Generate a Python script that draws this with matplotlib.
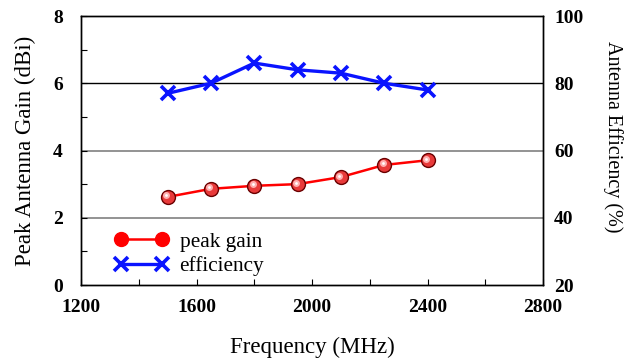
import matplotlib
matplotlib.use("Agg")
import matplotlib.pyplot as plt
import matplotlib.transforms as mtransforms
from matplotlib.lines import Line2D
from matplotlib.ticker import MultipleLocator

# data
freq = [1500, 1650, 1800, 1950, 2100, 2250, 2400]
peak_gain = [2.62, 2.86, 2.95, 3.0, 3.21, 3.57, 3.71]
efficiency = [77, 80, 86, 84, 83, 80, 78]

plt.rcParams['font.family'] = ['Liberation Serif', 'DejaVu Serif']
plt.rcParams['font.size'] = 14

fig = plt.figure(figsize=(6.36, 3.58), dpi=100)
ax = fig.add_axes([0.1274, 0.2039, 0.7264, 0.7514])
ax2 = ax.twinx()

# horizontal grid lines
ax.axhline(2, color='#808080', lw=1.2, zorder=0)
ax.axhline(4, color='#808080', lw=1.2, zorder=0)
ax.axhline(6, color='black', lw=1.0, zorder=0)

# peak gain: red line with sphere-like markers
ax.plot(freq, peak_gain, color='red', lw=1.8, marker='o', ms=10,
        mfc='#e83a3a', mec='#6a0000', mew=1.0, zorder=3)
hl = mtransforms.offset_copy(ax.transData, fig=fig, x=-1.5, y=1.5, units='dots')
ax.plot(freq, peak_gain, ls='none', marker='o', ms=5, mfc='#ffb0b0',
        mec='none', transform=hl, zorder=4)
ax.plot(freq, peak_gain, ls='none', marker='o', ms=2, mfc='white',
        mec='none', transform=hl, zorder=5)

# efficiency: blue line with x markers
ax2.plot(freq, efficiency, color='#0a14ff', lw=2.4, marker='x', ms=10,
         mew=2.6, zorder=3)

ax.set_xlim(1200, 2800)
ax.set_ylim(0, 8)
ax2.set_ylim(20, 100)

ax.xaxis.set_major_locator(MultipleLocator(400))
ax.xaxis.set_minor_locator(MultipleLocator(200))
ax.yaxis.set_major_locator(MultipleLocator(2))
ax.yaxis.set_minor_locator(MultipleLocator(1))
ax2.yaxis.set_major_locator(MultipleLocator(20))

for a in (ax, ax2):
    a.tick_params(which='both', direction='in', length=4, width=0.8, labelsize=14)
    for lab in a.get_xticklabels() + a.get_yticklabels():
        lab.set_fontweight('bold')
    for sp in a.spines.values():
        sp.set_linewidth(1.0)
ax.tick_params(axis='x', pad=10)
ax.tick_params(axis='y', pad=13)
ax2.tick_params(axis='y', pad=8, length=0)

ax.set_xlabel('Frequency (MHz)', fontsize=16.5, labelpad=15)
ax.set_ylabel('Peak Antenna Gain (dBi)', fontsize=16.5, labelpad=12)
ax2.set_ylabel('Antenna Efficiency (%)', fontsize=14.5, rotation=270)
ax2.yaxis.set_label_coords(1.151, 0.55)
ax2.yaxis.label.set_va('center')

handles = [
    Line2D([], [], color='red', lw=1.8, marker='o', ms=10, mfc='red', mec='red'),
    Line2D([], [], color='#0a14ff', lw=2.4, marker='x', ms=10, mew=2.6),
]
ax2.legend(handles, ['peak gain', 'efficiency'], loc='center left',
           bbox_to_anchor=(0.05, 0.115), frameon=False, numpoints=2,
           handlelength=2.5, handletextpad=0.55, labelspacing=0.2,
           borderpad=0, fontsize=15.3)

fig.savefig('out.png', dpi=100)
